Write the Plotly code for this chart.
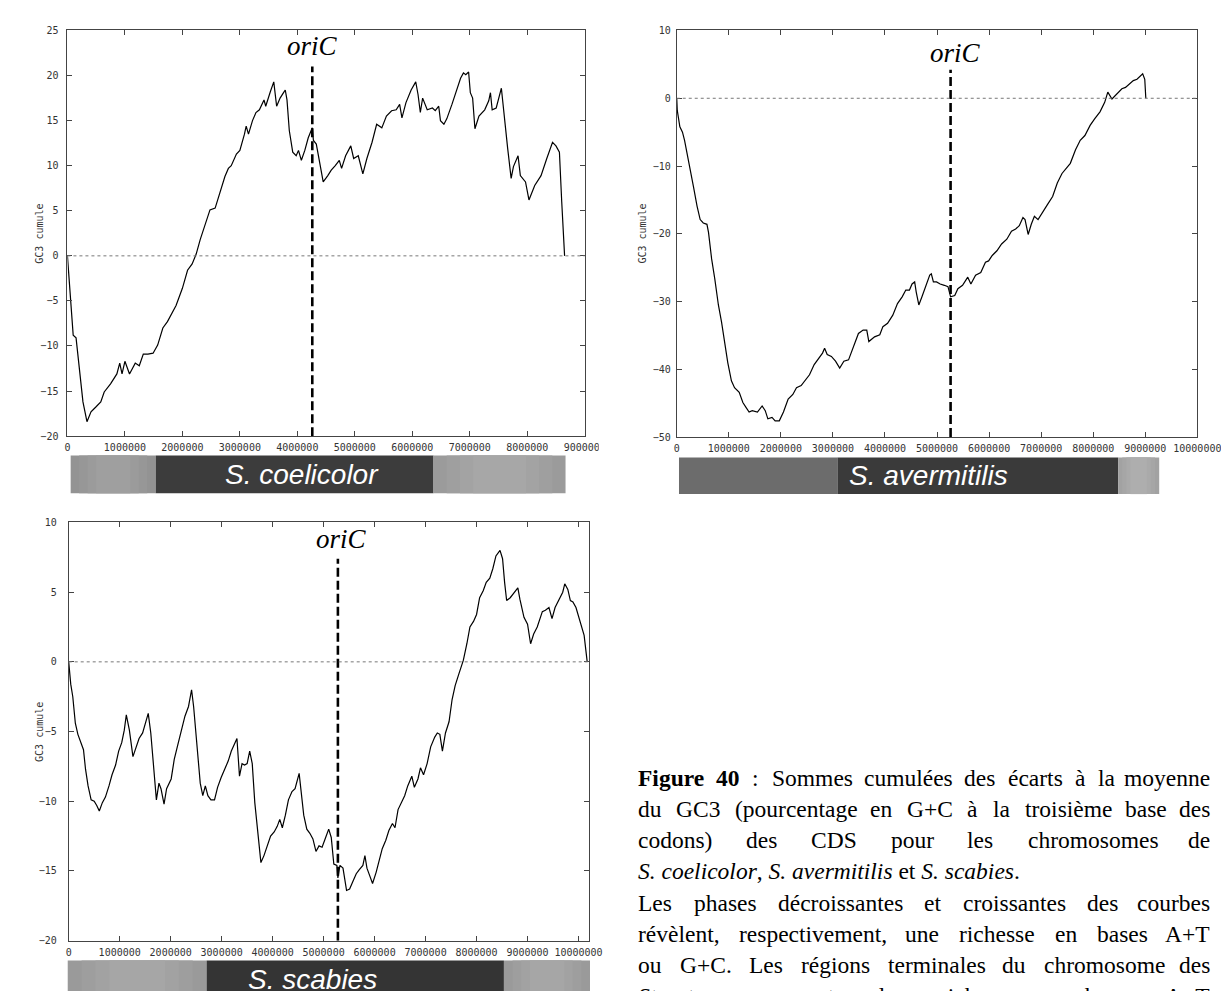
import plotly.graph_objects as go

W, H = 1229, 991

# cumulative GC3 skew, positions in Mb
coelicolor_pos = [0, 0.04, 0.1, 0.15, 0.21, 0.27, 0.34, 0.41, 0.49, 0.58, 0.64, 0.75, 0.86, 0.91, 0.95, 1.0,
                  1.08, 1.18, 1.25, 1.32, 1.4, 1.49, 1.57, 1.66, 1.74, 1.89, 2.0, 2.09, 2.17, 2.24, 2.31, 2.4,
                  2.48, 2.57, 2.65, 2.74, 2.8, 2.85, 2.94, 3.0, 3.08, 3.11, 3.15, 3.22, 3.28, 3.34, 3.42, 3.45,
                  3.53, 3.59, 3.64, 3.7, 3.76, 3.79, 3.82, 3.86, 3.92, 3.98, 4.02, 4.07, 4.13, 4.19, 4.26, 4.28,
                  4.33, 4.39, 4.45, 4.53, 4.59, 4.66, 4.73, 4.77, 4.84, 4.93, 4.98, 5.06, 5.14, 5.21, 5.3, 5.38,
                  5.47, 5.55, 5.64, 5.72, 5.78, 5.82, 5.89, 5.98, 6.06, 6.1, 6.14, 6.18, 6.26, 6.35, 6.4, 6.46,
                  6.49, 6.55, 6.6, 6.69, 6.77, 6.84, 6.89, 6.93, 6.98, 7.01, 7.05, 7.09, 7.16, 7.26, 7.33, 7.36,
                  7.39, 7.46, 7.55, 7.59, 7.66, 7.72, 7.76, 7.84, 7.88, 7.97, 8.03, 8.13, 8.24, 8.34, 8.44, 8.5,
                  8.56, 8.6, 8.65]
coelicolor_gc3 = [0, -3.6, -8.8, -9.1, -12.8, -16.2, -18.4, -17.3, -16.8, -16.2, -15.1, -14.2, -13.1, -11.9, -13.1,
                  -11.7, -13.1, -11.9, -12.2, -10.9, -10.9, -10.8, -9.9, -8.0, -7.3, -5.5, -3.6, -1.6, -0.9, 0.2,
                  1.8, 3.6, 5.1, 5.3, 6.9, 8.8, 9.7, 10.0, 11.3, 11.7, 13.5, 14.4, 13.5, 15.0, 15.9, 16.2, 17.3,
                  16.6, 18.2, 19.3, 16.6, 17.5, 18.1, 18.4, 17.3, 13.9, 11.5, 11.1, 11.7, 10.6, 11.7, 13.1, 14.2,
                  12.8, 12.4, 10.2, 8.2, 8.9, 9.5, 10.0, 10.6, 9.7, 11.1, 12.2, 10.8, 11.1, 9.1, 10.8, 12.6, 14.6,
                  14.2, 15.5, 16.1, 16.2, 16.8, 15.3, 17.0, 18.4, 19.3, 17.9, 15.9, 17.5, 16.2, 16.4, 16.1, 16.6,
                  15.0, 14.6, 15.2, 16.8, 18.4, 19.7, 20.3, 20.1, 20.4, 18.1, 17.5, 14.1, 15.5, 16.2, 17.2, 18.1,
                  16.2, 16.4, 18.6, 15.9, 11.9, 8.6, 9.9, 11.1, 8.9, 8.2, 6.2, 7.8, 8.9, 10.8, 12.6, 12.2, 11.5,
                  6.0, 0]

avermitilis_pos = [0, 0.01, 0.06, 0.11, 0.15, 0.2, 0.26, 0.32, 0.39, 0.45, 0.51, 0.58, 0.61, 0.67, 0.73, 0.8,
                   0.86, 0.92, 0.98, 1.05, 1.11, 1.2, 1.27, 1.33, 1.39, 1.45, 1.55, 1.64, 1.7, 1.75, 1.83, 1.89,
                   1.97, 2.05, 2.14, 2.23, 2.3, 2.39, 2.49, 2.55, 2.64, 2.74, 2.8, 2.84, 2.89, 2.97, 3.05, 3.13,
                   3.21, 3.3, 3.4, 3.49, 3.58, 3.65, 3.69, 3.8, 3.9, 3.96, 4.05, 4.15, 4.24, 4.33, 4.4, 4.47,
                   4.52, 4.57, 4.6, 4.65, 4.71, 4.79, 4.86, 4.89, 4.93, 4.99, 5.06, 5.14, 5.21, 5.26, 5.34, 5.4,
                   5.49, 5.59, 5.65, 5.74, 5.84, 5.93, 5.99, 6.06, 6.15, 6.24, 6.34, 6.43, 6.51, 6.58, 6.65, 6.69,
                   6.75, 6.81, 6.87, 6.94, 7.03, 7.12, 7.22, 7.31, 7.4, 7.5, 7.56, 7.66, 7.75, 7.84, 7.94, 8.03,
                   8.13, 8.22, 8.28, 8.36, 8.44, 8.55, 8.62, 8.7, 8.77, 8.84, 8.9, 8.95, 8.99, 9.01]
avermitilis_gc3 = [0, -1.8, -4.2, -5.0, -6.2, -8.1, -10.6, -13.0, -15.9, -17.9, -18.4, -18.6, -19.8, -23.7, -26.6,
                   -30.5, -33.0, -36.4, -39.0, -41.7, -42.7, -43.4, -44.9, -45.6, -46.3, -46.1, -46.3, -45.4,
                   -46.1, -47.3, -47.1, -47.6, -47.6, -46.3, -44.4, -43.7, -42.7, -42.4, -41.5, -40.8, -39.3,
                   -38.3, -37.6, -36.9, -37.8, -38.1, -38.8, -39.8, -38.8, -38.6, -36.4, -34.7, -34.2, -34.2,
                   -35.9, -35.2, -34.9, -33.7, -33.2, -32.0, -30.3, -29.3, -28.3, -28.3, -27.4, -27.1, -28.6,
                   -30.5, -29.3, -27.6, -26.1, -25.9, -27.1, -27.1, -27.4, -27.6, -27.8, -29.3, -29.1, -28.1,
                   -27.6, -26.4, -27.4, -26.1, -25.7, -24.2, -24.0, -23.2, -22.5, -21.5, -20.8, -19.6, -19.3,
                   -18.8, -17.6, -17.9, -20.1, -18.6, -17.4, -17.9, -16.7, -15.7, -14.5, -12.5, -11.1, -10.1,
                   -9.6, -7.6, -6.2, -5.5, -4.0, -3.0, -2.0, -0.6, 0.9, -0.1, 0.6, 1.4, 1.6, 2.1, 2.6, 2.8, 3.3,
                   3.6, 2.8, 0]

scabies_pos = [0, 0.04, 0.08, 0.13, 0.18, 0.24, 0.29, 0.33, 0.38, 0.44, 0.5, 0.55, 0.6, 0.66, 0.72, 0.79, 0.85,
               0.92, 0.98, 1.04, 1.09, 1.13, 1.19, 1.26, 1.32, 1.38, 1.45, 1.51, 1.56, 1.61, 1.67, 1.72, 1.77,
               1.81, 1.87, 1.92, 2.01, 2.07, 2.13, 2.2, 2.28, 2.35, 2.41, 2.45, 2.52, 2.58, 2.63, 2.68, 2.73,
               2.79, 2.86, 2.92, 2.99, 3.06, 3.13, 3.19, 3.26, 3.3, 3.35, 3.4, 3.45, 3.5, 3.55, 3.6, 3.65, 3.72,
               3.77, 3.83, 3.9, 3.96, 4.03, 4.09, 4.14, 4.19, 4.25, 4.31, 4.38, 4.44, 4.52, 4.57, 4.61, 4.67,
               4.73, 4.79, 4.85, 4.91, 4.97, 5.04, 5.1, 5.15, 5.2, 5.26, 5.28, 5.32, 5.38, 5.45, 5.51, 5.58,
               5.64, 5.7, 5.77, 5.81, 5.85, 5.9, 5.96, 6.03, 6.09, 6.15, 6.22, 6.28, 6.35, 6.4, 6.46, 6.53,
               6.59, 6.65, 6.73, 6.78, 6.85, 6.9, 6.96, 7.03, 7.1, 7.18, 7.23, 7.28, 7.33, 7.39, 7.46, 7.52,
               7.58, 7.65, 7.74, 7.81, 7.87, 7.94, 8.0, 8.06, 8.13, 8.19, 8.26, 8.32, 8.38, 8.46, 8.51, 8.55,
               8.59, 8.66, 8.74, 8.81, 8.85, 8.93, 9.0, 9.06, 9.12, 9.19, 9.29, 9.35, 9.42, 9.48, 9.54, 9.61,
               9.69, 9.73, 9.79, 9.84, 9.89, 9.95, 10.02, 10.11, 10.17]
scabies_gc3 = [0, -1.6, -2.5, -4.4, -5.2, -5.8, -6.3, -7.7, -8.9, -9.9, -10.0, -10.3, -10.7, -10.1, -9.7, -8.9,
               -8.1, -7.4, -6.4, -5.8, -4.9, -3.8, -4.9, -6.8, -6.1, -5.5, -5.1, -4.4, -3.7, -5.1, -7.7, -9.9,
               -8.7, -9.1, -10.2, -9.1, -8.4, -7.0, -6.1, -5.1, -3.9, -3.2, -2.0, -3.2, -6.5, -8.7, -9.6, -8.9,
               -9.6, -9.9, -9.9, -9.0, -8.3, -7.7, -7.1, -6.4, -5.8, -5.5, -8.2, -7.3, -7.4, -7.3, -6.4, -7.3,
               -10.1, -12.5, -14.4, -13.9, -13.2, -12.5, -12.2, -11.8, -11.3, -11.9, -11.0, -9.9, -9.3, -9.1,
               -8.0, -9.9, -11.0, -12.0, -12.3, -12.7, -13.6, -13.2, -13.3, -12.6, -12.0, -12.6, -14.5, -14.6,
               -15.5, -14.6, -14.8, -16.4, -16.3, -15.7, -15.2, -14.9, -14.6, -13.9, -14.8, -15.3, -15.9, -15.1,
               -14.2, -13.4, -12.8, -12.1, -11.6, -11.9, -10.6, -10.1, -9.6, -8.9, -8.2, -9.0, -8.4, -7.6, -8.1,
               -7.3, -6.1, -5.4, -5.1, -5.2, -6.4, -5.1, -4.3, -2.7, -1.7, -0.9, 0.1, 1.3, 2.5, 2.9, 3.4, 4.6,
               5.1, 5.7, 6.0, 6.7, 7.6, 8.0, 7.4, 5.7, 4.4, 4.6, 5.0, 5.3, 4.5, 3.2, 2.7, 1.3, 2.0, 2.5, 3.6,
               3.7, 3.9, 3.1, 3.9, 4.4, 5.0, 5.6, 5.2, 4.4, 4.3, 3.9, 3.1, 1.9, 0]

species = ['S. coelicolor', 'S. avermitilis', 'S. scabies']
oric_pos = [4.26, 5.26, 5.28]  # Mb
x_tick_mb = [list(range(0, 10)), list(range(0, 11)), list(range(0, 11))]
y_ticks = [list(range(-20, 30, 5)), list(range(-50, 20, 10)), list(range(-20, 15, 5))]

positions = [coelicolor_pos, avermitilis_pos, scabies_pos]
values = [coelicolor_gc3, avermitilis_gc3, scabies_gc3]

# layout (pixels)
boxes = [(57.7, 586.6, 16.7, 427.3), (680.7, 1213, 16.7, 428.3), (59, 590.7, 514.7, 938)]
x_max = [9e6, 10e6, 10.2e6]
y_range = [(-20, 25), (-50, 10), (-20, 10)]
dash_top = [21.0, 4.2, 7.4]
oric_label_y = [32, 39, 531]
oric_label_dx = [0, 5, 4]
ytitle_x = [29, 646, 29]
ystandoff = [6, 3, 9]
# banner pieces: (x0, x1, grey level, soft lighter core?)
banners = [
    (447, 485, [(61, 148, 0x93, True), (148, 432, 0x3c, False), (432, 567, 0x9b, True)]),
    (449, 486, [(683, 845, 0x6c, False), (845, 1132, 0x3a, False), (1132, 1174, 0xa2, True)]),
    (958, 991, [(58, 200, 0x9a, True), (200, 504, 0x34, False), (504, 592, 0x9a, True)]),
]
banner_text_xy = [(298, 466), (938, 467), (308, 977)]


def px(x):
    return x / W


def py(y):
    return 1 - y / H


def grey(v):
    v = min(v, 255)
    return '#%02x%02x%02x' % (v, v, v)


fig = go.Figure()
shapes = []
annotations = []
axis_font = dict(family='DejaVu Sans Mono', size=10, color='#333')

for i in range(3):
    n = '' if i == 0 else str(i + 1)
    xa, ya = 'x' + n, 'y' + n
    x0, x1, y0, y1 = boxes[i]

    fig.add_trace(go.Scatter(
        x=[p * 1e6 for p in positions[i]],
        y=values[i],
        mode='lines',
        line=dict(color='black', width=1.2),
        xaxis=xa, yaxis=ya,
        showlegend=False
    ))
    fig.add_trace(go.Scatter(
        x=[oric_pos[i] * 1e6] * 2,
        y=[y_range[i][0], dash_top[i]],
        mode='lines',
        line=dict(color='black', width=2.6, dash='9px,4px'),
        xaxis=xa, yaxis=ya,
        showlegend=False
    ))

    fig.update_layout({
        'xaxis' + n: dict(
            domain=[px(x0), px(x1)], anchor=ya, range=[0, x_max[i]],
            tickvals=[v * 1e6 for v in x_tick_mb[i]], tickformat='d',
            ticks='inside', ticklen=5, tickcolor='#444', mirror='ticks',
            showline=True, linecolor='#444', linewidth=1, showgrid=False, zeroline=False,
            tickfont=axis_font, ticklabelstandoff=2
        ),
        'yaxis' + n: dict(
            domain=[py(y1), py(y0)], anchor=xa, range=list(y_range[i]),
            tickvals=y_ticks[i],
            ticks='inside', ticklen=5, tickcolor='#444', mirror='ticks',
            showline=True, linecolor='#444', linewidth=1, showgrid=False, zeroline=False,
            tickfont=axis_font, ticklabelstandoff=ystandoff[i]
        ),
    })

    # dotted zero line
    shapes.append(dict(type='line', xref=xa + ' domain', yref=ya, x0=0, x1=1, y0=0, y1=0,
                       line=dict(color='#777', width=1, dash='dot')))

    annotations.append(dict(
        text='<i>oriC</i>', x=oric_pos[i] * 1e6, xref=xa, y=py(oric_label_y[i]), yref='paper',
        xshift=oric_label_dx[i], xanchor='center', yanchor='middle', showarrow=False,
        font=dict(family='Liberation Serif', size=27, color='black')
    ))

    annotations.append(dict(
        text='GC3 cumule', x=px(ytitle_x[i]), y=py((y0 + y1) / 2), xref='paper', yref='paper',
        textangle=-90, showarrow=False, xanchor='center', yanchor='middle',
        font=dict(family='DejaVu Sans Mono', size=10, color='#333')
    ))

    by0, by1, parts = banners[i]
    for sx0, sx1, level, core in parts:
        shapes.append(dict(type='rect', xref='paper', yref='paper',
                           x0=px(sx0), x1=px(sx1), y0=py(by1), y1=py(by0),
                           fillcolor=grey(level), line=dict(width=0)))
        if core:
            # soft lighter middle, a few small steps
            for step, frac in enumerate([0.8, 0.6, 0.4]):
                mid, half = (sx0 + sx1) / 2, (sx1 - sx0) * frac / 2
                shapes.append(dict(type='rect', xref='paper', yref='paper',
                                   x0=px(mid - half), x1=px(mid + half), y0=py(by1), y1=py(by0),
                                   fillcolor=grey(level + 4 * (step + 1)), line=dict(width=0)))
    tx, ty = banner_text_xy[i]
    annotations.append(dict(
        text='<i>' + species[i] + '</i>', x=px(tx), y=py(ty), xref='paper', yref='paper',
        showarrow=False, xanchor='center', yanchor='middle',
        font=dict(family='Liberation Sans', size=28, color='white')
    ))

# the scanned panel is cropped just after the last x label
shapes.append(dict(type='rect', xref='paper', yref='paper', layer='above',
                   x0=px(601), x1=px(640), y0=py(446), y1=py(429),
                   fillcolor='white', line=dict(width=0)))

# caption, justified word by word (Times metrics, 1/1000 em)
ROMAN = {' ': 250, '(': 333, ')': 333, '+': 564, ',': 250, '.': 250, ':': 278, '3': 500,
         'A': 722, 'C': 667, 'D': 722, 'G': 722, 'L': 611, 'S': 556, 'T': 611,
         'a': 444, 'b': 500, 'c': 444, 'd': 500, 'e': 444, 'f': 333, 'g': 500, 'h': 500, 'i': 278,
         'l': 278, 'm': 778, 'n': 500, 'o': 500, 'p': 500, 'q': 500, 'r': 333, 's': 389, 't': 278,
         'u': 500, 'v': 500, 'x': 500, 'y': 500, 'à': 444, 'é': 444, 'è': 444}
BOLD = {'F': 611, 'i': 278, 'g': 500, 'u': 556, 'r': 444, 'e': 444, '4': 500, '0': 500}
ITALIC = {'S': 500, '.': 250, ' ': 250, 'c': 444, 'o': 500, 'e': 444, 'l': 278, 'i': 278, 'r': 389,
          'a': 500, 'v': 444, 'm': 722, 't': 278, 's': 389, 'b': 500, 'p': 500, 'y': 444}

caption_lines = [
    ['<b>Figure</b>', '<b>40</b>', ':', 'Sommes', 'cumulées', 'des', 'écarts', 'à', 'la', 'moyenne'],
    ['du', 'GC3', '(pourcentage', 'en', 'G+C', 'à', 'la', 'troisième', 'base', 'des'],
    ['codons)', 'des', 'CDS', 'pour', 'les', 'chromosomes', 'de'],
    ['<i>S. coelicolor</i>, <i>S. avermitilis</i> et <i>S. scabies</i>.'],
    ['Les', 'phases', 'décroissantes', 'et', 'croissantes', 'des', 'courbes'],
    ['révèlent,', 'respectivement,', 'une', 'richesse', 'en', 'bases', 'A+T'],
    ['ou', 'G+C.', 'Les', 'régions', 'terminales', 'du', 'chromosome', 'des'],
    ['<i>Streptomyces</i>', 'sont', 'plus', 'riches', 'en', 'bases', 'A+T'],
]
cap_left, cap_right = 640, 1227
cap_top, cap_step = 773, 31.6
cap_size = 23.5


def word_width(word, size):
    table, w, k = ROMAN, 0, 0
    while k < len(word):
        if word.startswith('<b>', k):
            table, k = BOLD, k + 3
            continue
        if word.startswith('<i>', k):
            table, k = ITALIC, k + 3
            continue
        if word.startswith('</b>', k) or word.startswith('</i>', k):
            table, k = ROMAN, k + 4
            continue
        w += table.get(word[k], ROMAN.get(word[k], 500))
        k += 1
    return w * size / 1000


cap_font = dict(family='Liberation Serif', size=cap_size, color='black')
for j, words in enumerate(caption_lines):
    yc = cap_top + j * cap_step
    if len(words) == 1:
        annotations.append(dict(text=words[0], x=px(cap_left), y=py(yc), xref='paper', yref='paper',
                                xanchor='left', yanchor='middle', showarrow=False, borderpad=0,
                                font=cap_font))
        continue
    widths = [word_width(w, cap_size) for w in words]
    gap = (cap_right - cap_left - sum(widths)) / (len(words) - 1)
    xpos = cap_left
    for k, w in enumerate(words):
        last = k == len(words) - 1
        annotations.append(dict(text=w, x=px(cap_right if last else xpos), y=py(yc),
                                xref='paper', yref='paper', xanchor='right' if last else 'left',
                                yanchor='middle', showarrow=False, borderpad=0, font=cap_font))
        xpos += widths[k] + gap

fig.update_layout(
    width=W, height=H,
    margin=dict(l=0, r=0, t=0, b=0),
    paper_bgcolor='white',
    plot_bgcolor='white',
    shapes=shapes,
    annotations=annotations,
    showlegend=False
)

fig.write_html("out.html")
